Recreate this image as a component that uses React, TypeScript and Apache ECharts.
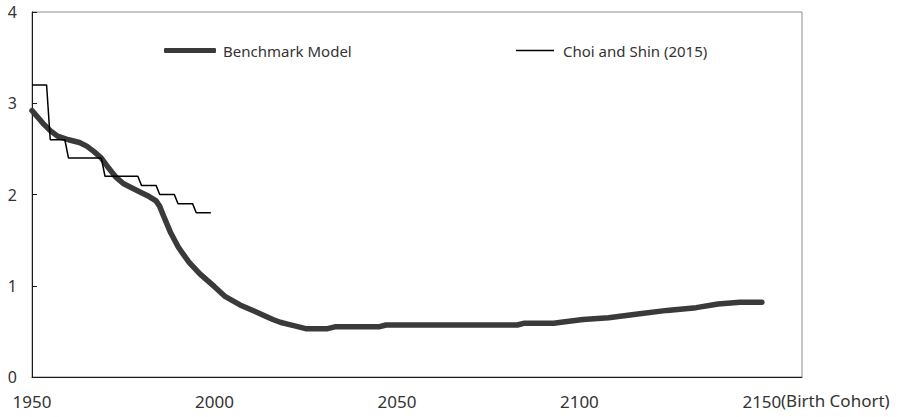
import React, { useEffect, useRef } from "react";
import * as echarts from "echarts";

const seriesNames = ["Benchmark Model", "Choi and Shin (2015)"];
const xAxisTitle = "(Birth Cohort)";

const benchYears = [
  1950, 1953, 1955, 1957, 1960, 1963, 1965, 1967, 1969, 1971, 1973, 1975, 1977,
  1980, 1982, 1984, 1985, 1986, 1988, 1990, 1991, 1993, 1996, 2000, 2003, 2007,
  2011, 2016, 2018, 2020, 2022, 2025, 2031, 2033, 2045, 2047, 2083, 2085, 2093,
  2095, 2101, 2108, 2116, 2124, 2132, 2138, 2144, 2150,
];
const benchValues = [
  2.92, 2.78, 2.7, 2.64, 2.6, 2.57, 2.53, 2.47, 2.4, 2.29, 2.19, 2.12, 2.08,
  2.02, 1.98, 1.93, 1.87, 1.77, 1.58, 1.43, 1.37, 1.26, 1.13, 0.99, 0.88, 0.79,
  0.72, 0.63, 0.6, 0.58, 0.56, 0.53, 0.53, 0.55, 0.55, 0.57, 0.57, 0.59, 0.59,
  0.6, 0.63, 0.65, 0.69, 0.73, 0.76, 0.8, 0.82, 0.82,
];

const choiYears = [
  1950, 1954, 1955, 1959, 1960, 1969, 1970, 1979, 1980, 1984, 1985, 1989, 1990,
  1994, 1995, 1999,
];
const choiValues = [
  3.2, 3.2, 2.6, 2.6, 2.4, 2.4, 2.2, 2.2, 2.1, 2.1, 2.0, 2.0, 1.9, 1.9, 1.8, 1.8,
];

const FONT = "Noto Sans";
const TEXT = "#333333";
const BENCH_COLOR = "#3a3a3a";
const CHOI_COLOR = "#000000";

export default function App() {
  const ref = useRef<HTMLDivElement>(null);

  useEffect(() => {
    document.body.style.margin = "0";
    const chart = echarts.init(ref.current as HTMLDivElement, null, {
      renderer: "svg",
    });
    chart.setOption({
      animation: false,
      grid: {
        left: 32,
        top: 12,
        right: 105,
        bottom: 40,
        show: true,
        borderColor: "#8c8c8c",
        borderWidth: 1,
      },
      xAxis: {
        type: "value",
        min: 1950,
        max: 2161,
        interval: 50,
        axisLine: { show: true, lineStyle: { color: "#1a1a1a", width: 1 } },
        axisTick: { show: false },
        splitLine: { show: false },
        axisLabel: {
          showMaxLabel: false,
          margin: 16,
          fontSize: 17,
          color: TEXT,
          fontFamily: FONT,
          formatter: (v: number) => String(v),
        },
      },
      yAxis: {
        type: "value",
        min: 0,
        max: 4,
        interval: 1,
        axisLine: { show: true, lineStyle: { color: "#1a1a1a", width: 1 } },
        axisTick: {
          show: true,
          inside: true,
          length: 5,
          lineStyle: { color: "#1a1a1a" },
        },
        splitLine: { show: false },
        axisLabel: {
          margin: 15,
          fontSize: 16,
          color: TEXT,
          fontFamily: FONT,
          formatter: (v: number) => String(v),
        },
      },
      legend: [
        {
          data: [{ name: seriesNames[0], icon: "roundRect" }],
          left: 164,
          top: 43,
          padding: 0,
          itemWidth: 52,
          itemHeight: 5,
          itemStyle: { color: BENCH_COLOR },
          textStyle: {
            fontSize: 15,
            color: TEXT,
            fontFamily: FONT,
            padding: [0, 0, 0, 2],
          },
        },
        {
          data: [{ name: seriesNames[1], icon: "rect" }],
          left: 516,
          top: 43,
          padding: 0,
          itemWidth: 38,
          itemHeight: 1.5,
          itemStyle: { color: CHOI_COLOR },
          textStyle: {
            fontSize: 15,
            color: TEXT,
            fontFamily: FONT,
            padding: [0, 0, 0, 4],
          },
        },
      ],
      graphic: [
        {
          type: "text",
          left: 781,
          top: 392,
          style: {
            text: xAxisTitle,
            fontSize: 17,
            fill: TEXT,
            fontFamily: FONT,
          },
        },
      ],
      series: [
        {
          name: seriesNames[0],
          type: "line",
          data: benchYears.map((y, i) => [y, benchValues[i]]),
          showSymbol: false,
          symbol: "none",
          lineStyle: { color: BENCH_COLOR, width: 5.5, cap: "round", join: "round" },
          itemStyle: { color: BENCH_COLOR },
          z: 3,
        },
        {
          name: seriesNames[1],
          type: "line",
          data: choiYears.map((y, i) => [y, choiValues[i]]),
          showSymbol: false,
          symbol: "none",
          lineStyle: { color: CHOI_COLOR, width: 1.5 },
          itemStyle: { color: CHOI_COLOR },
          z: 4,
        },
      ],
    });
    return () => chart.dispose();
  }, []);

  return <div ref={ref} style={{ width: 907, height: 417 }} />;
}
